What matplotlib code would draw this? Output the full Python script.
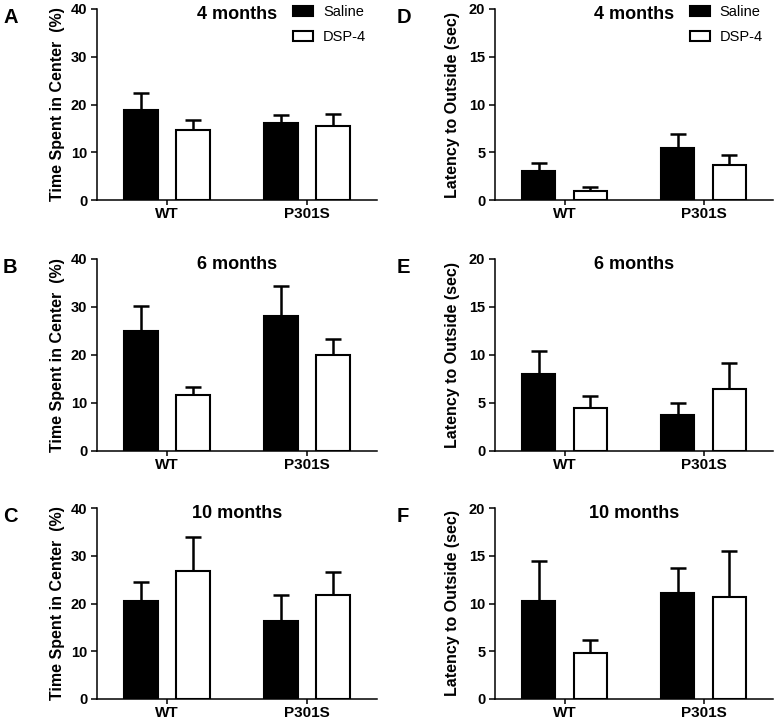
import numpy as np
import matplotlib
matplotlib.use('Agg')
import matplotlib.pyplot as plt

plt.rcParams['font.family'] = ['Liberation Sans', 'DejaVu Sans']

# groups and treatments
groups = ['WT', 'P301S']
treatments = ['Saline', 'DSP-4']
ages = ['4 months', '6 months', '10 months']

# Time spent in center (%) - panels A, B, C
center_saline = [[18.8, 16.1], [25.1, 28.1], [20.6, 16.4]]
center_saline_err = [[3.7, 1.7], [5.2, 6.2], [3.9, 5.3]]
center_dsp4 = [[14.6, 15.6], [11.7, 19.9], [26.8, 21.7]]
center_dsp4_err = [[2.1, 2.5], [1.6, 3.4], [7.1, 5.0]]

# Latency to outside (sec) - panels D, E, F
latency_saline = [[3.05, 5.4], [8.05, 3.7], [10.25, 11.1]]
latency_saline_err = [[0.8, 1.55], [2.33, 1.28], [4.2, 2.58]]
latency_dsp4 = [[0.95, 3.7], [4.47, 6.48], [4.8, 10.7]]
latency_dsp4_err = [[0.43, 1.05], [1.23, 2.67], [1.37, 4.84]]

W, H = 777, 724
fig = plt.figure(figsize=(W / 100, H / 100), dpi=100)

rows_px = [(9, 200), (259, 451), (508, 699)]  # (top, bottom) pixel rows
cols_px = [(97, 377), (495, 773)]
letters = [['A', 'B', 'C'], ['D', 'E', 'F']]


def draw_panel(ax, sal, sal_err, dsp, dsp_err, ymax, ystep, ylabel, label_x, title, legend):
    x = np.arange(len(groups))
    off, w = 0.185, 0.24
    ax.bar(x - off, sal, w, color='black', edgecolor='black', linewidth=1.5,
           label=treatments[0], zorder=3)
    ax.bar(x + off, dsp, w, color='white', edgecolor='black', linewidth=1.5,
           label=treatments[1], zorder=3)
    for xs, v, e in [(x - off, sal, sal_err), (x + off, dsp, dsp_err)]:
        ax.errorbar(xs, v, yerr=[np.zeros(len(e)), e], fmt='none', ecolor='black',
                    elinewidth=1.8, capsize=6, capthick=1.8, zorder=2)
    ax.set_xlim(-0.5, 1.5)
    ax.set_ylim(0, ymax)
    ax.set_yticks(np.arange(0, ymax + 0.1, ystep))
    ax.set_xticks(x)
    ax.set_xticklabels(groups, fontweight='bold', fontsize=11)
    for lab in ax.get_yticklabels():
        lab.set_fontweight('bold')
        lab.set_fontsize(10.5)
    ax.spines['top'].set_visible(False)
    ax.spines['right'].set_visible(False)
    ax.spines['left'].set_linewidth(1.1)
    ax.spines['bottom'].set_linewidth(1.1)
    ax.tick_params(axis='y', length=4, width=1.1, pad=3)
    ax.tick_params(axis='x', length=3.5, width=1.1, pad=1.5)
    ax.set_ylabel(ylabel, fontweight='bold', fontsize=11.5)
    ax.yaxis.set_label_coords(label_x, 0.5)
    ax.text(0.5, 1.015, title, transform=ax.transAxes, ha='center', va='top',
            fontweight='bold', fontsize=13)
    if legend:
        ax.legend(loc='upper left', bbox_to_anchor=(0.70, 1.02), frameon=False,
                  fontsize=10.5, handlelength=1.4, handleheight=0.6,
                  handletextpad=0.65, labelspacing=0.75, borderpad=0,
                  borderaxespad=0)


for c, (left, right) in enumerate(cols_px):
    for r, (top, bottom) in enumerate(rows_px):
        ax = fig.add_axes([left / W, 1 - bottom / H, (right - left) / W, (bottom - top) / H])
        if c == 0:
            draw_panel(ax, center_saline[r], center_saline_err[r], center_dsp4[r],
                       center_dsp4_err[r], 40, 10, 'Time Spent in Center  (%)', -0.115,
                       ages[r], r == 0)
        else:
            draw_panel(ax, latency_saline[r], latency_saline_err[r], latency_dsp4[r],
                       latency_dsp4_err[r], 20, 5, 'Latency to Outside (sec)', -0.125,
                       ages[r], r == 0)
        lx = 3 if c == 0 else 397
        fig.text(lx / W, 1 - (top - 1) / H, letters[c][r], fontweight='bold',
                 fontsize=14.5, ha='left', va='top')

fig.savefig('out.png', dpi=100)
